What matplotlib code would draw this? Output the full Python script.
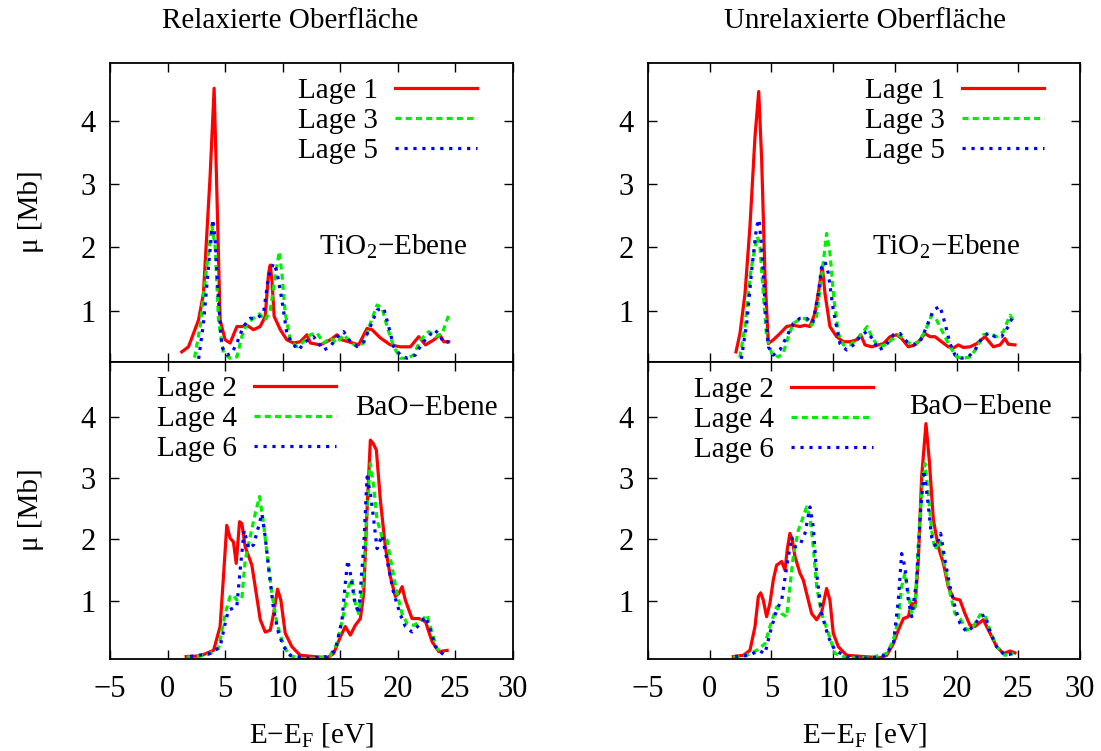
import matplotlib
matplotlib.use("Agg")
import matplotlib.pyplot as plt

plt.rcParams['font.family'] = ['Liberation Serif', 'DejaVu Serif']
plt.rcParams['mathtext.fontset'] = 'custom'
plt.rcParams['mathtext.rm'] = 'Liberation Serif'
plt.rcParams['mathtext.it'] = 'Liberation Serif:italic'

# ---- Relaxierte Oberflaeche, TiO2-Ebene (Lage 1,3,5)
rel_l1_x = [1.24, 1.82, 2.69, 3.12, 3.70, 4.05, 4.29, 4.57, 5.01, 5.44, 6.03, 6.46, 6.90, 7.47, 8.05, 8.49, 8.78, 8.93, 9.07, 9.27,
            9.80, 10.37, 10.95, 11.53, 12.12, 12.41, 13.28, 14.15, 14.73, 15.16, 15.74, 16.61, 17.34, 17.77, 18.50, 19.37,
            20.24, 21.11, 21.83, 22.42, 23.14, 23.66, 24.01, 24.44]
rel_l1_y = [0.35, 0.43, 0.85, 1.27, 3.12, 4.51, 2.85, 0.85, 0.54, 0.49, 0.75, 0.75, 0.77, 0.70, 0.75, 0.91, 1.59, 1.72, 1.48, 0.91,
            0.70, 0.54, 0.49, 0.51, 0.62, 0.49, 0.46, 0.54, 0.62, 0.54, 0.51, 0.46, 0.72, 0.70, 0.57, 0.46,
            0.43, 0.43, 0.59, 0.46, 0.54, 0.62, 0.51, 0.51]
rel_l3_x = [2.2, 2.83, 3.41, 3.85, 4.14, 4.43, 4.86, 5.44, 6.03, 6.46, 6.90, 7.47, 7.99, 8.49, 8.93, 9.36, 9.71, 9.94, 10.23,
            10.67, 11.24, 11.82, 12.41, 12.98, 13.57, 14.15, 14.73, 15.30, 15.89, 16.47, 17.05, 17.63, 18.21, 18.65, 19.08,
            19.66, 20.24, 20.82, 21.40, 21.98, 22.70, 23.29, 23.87, 24.44]
rel_l3_y = [0.10, 0.75, 1.69, 2.35, 2.01, 0.85, 0.33, 0.25, 0.27, 0.59, 0.80, 0.88, 0.95, 0.85, 1.01, 1.54, 1.93, 1.59, 0.96,
            0.54, 0.43, 0.51, 0.62, 0.65, 0.49, 0.57, 0.49, 0.62, 0.51, 0.43, 0.49, 0.80, 1.09, 1.04, 0.75,
            0.43, 0.25, 0.25, 0.30, 0.54, 0.67, 0.59, 0.64, 0.93]
rel_l5_x = [2.6, 3.12, 3.56, 3.94, 4.14, 4.43, 4.72, 5.16, 5.59, 6.03, 6.59, 7.18, 7.76, 8.34, 8.78, 9.21, 9.50, 9.94, 10.37,
            10.81, 11.39, 11.97, 12.69, 13.57, 14.15, 14.73, 15.30, 15.89, 16.47, 17.05, 17.63, 18.21, 18.79, 19.22,
            19.66, 20.24, 20.82, 21.54, 22.13, 22.70, 23.14, 23.58, 24.01, 24.44]
rel_l5_y = [0.10, 0.80, 1.69, 2.44, 2.12, 1.17, 0.43, 0.30, 0.33, 0.49, 0.75, 0.88, 0.88, 0.96, 1.54, 1.75, 1.62, 1.17, 0.64,
            0.49, 0.38, 0.51, 0.59, 0.38, 0.43, 0.59, 0.67, 0.51, 0.44, 0.51, 0.75, 1.01, 1.04, 0.75,
            0.43, 0.30, 0.25, 0.30, 0.49, 0.59, 0.70, 0.64, 0.49, 0.51]

# ---- Relaxierte Oberflaeche, BaO-Ebene (Lage 2,4,6)
rel_l2_x = [1.62, 2.83, 4.0, 4.57, 4.86, 5.15, 5.44, 5.73, 5.97, 6.26, 6.46, 6.75, 7.33, 7.62, 8.06, 8.49, 8.93, 9.22, 9.56,
            9.85, 10.23, 10.81, 11.54, 12.7, 13.86, 14.44, 15.02, 15.45, 15.89, 16.32, 16.76, 17.05, 17.34, 17.63, 17.86,
            18.15, 18.5, 18.93, 19.37, 19.8, 20.1, 20.39, 20.67, 21.25, 21.84, 22.42, 23.0, 23.58, 24.3]
rel_l2_y = [0.09, 0.10, 0.19, 0.58, 1.39, 2.23, 2.02, 1.96, 1.61, 2.29, 2.26, 1.88, 1.58, 1.23, 0.69, 0.49, 0.52, 0.79, 1.19,
            1.01, 0.47, 0.25, 0.11, 0.09, 0.07, 0.14, 0.41, 0.58, 0.44, 0.60, 0.71, 1.12, 2.48, 3.62, 3.57,
            3.46, 2.64, 1.88, 1.39, 1.07, 1.12, 1.23, 1.01, 0.71, 0.71, 0.66, 0.33, 0.17, 0.19]
rel_l4_x = [1.67, 3.41, 4.43, 5.01, 5.44, 5.73, 6.02, 6.46, 6.75, 7.18, 7.62, 8.0, 8.35, 8.64, 9.07, 9.51, 9.94, 10.52, 11.54,
            12.99, 14.15, 14.73, 15.31, 15.74, 16.03, 16.32, 16.61, 17.05, 17.34, 17.63, 17.92, 18.21, 18.64, 19.08,
            19.51, 19.95, 20.38, 20.82, 21.4, 21.98, 22.56, 23.0, 23.43, 24.01]
rel_l4_y = [0.08, 0.11, 0.22, 0.79, 1.07, 1.09, 1.01, 1.04, 1.66, 2.04, 2.42, 2.70, 2.26, 1.77, 1.12, 0.63, 0.36, 0.11, 0.06,
            0.06, 0.11, 0.30, 0.79, 1.23, 1.36, 0.96, 0.79, 1.34, 2.53, 3.24, 2.86, 2.32, 2.04, 1.99,
            1.55, 1.12, 0.79, 0.63, 0.60, 0.66, 0.77, 0.47, 0.22, 0.14]
rel_l6_x = [1.96, 3.70, 4.57, 5.01, 5.30, 5.59, 6.02, 6.31, 6.66, 7.04, 7.47, 7.91, 8.2, 8.49, 8.78, 9.22, 9.65, 10.09, 10.67,
            12.12, 13.86, 14.58, 15.16, 15.45, 15.66, 15.95, 16.24, 16.61, 17.05, 17.34, 17.63, 17.92, 18.21, 18.64,
            19.08, 19.66, 20.24, 20.67, 21.25, 21.84, 22.42, 22.85, 23.29, 23.87, 24.3]
rel_l6_y = [0.09, 0.14, 0.25, 0.63, 0.85, 0.87, 0.90, 1.50, 2.15, 1.85, 1.91, 2.21, 2.42, 2.04, 1.55, 0.85, 0.47, 0.25, 0.11,
            0.06, 0.09, 0.19, 0.68, 1.28, 1.66, 1.39, 1.01, 0.79, 1.88, 3.02, 2.75, 2.32, 1.85, 2.07,
            1.66, 1.12, 0.77, 0.58, 0.49, 0.60, 0.74, 0.52, 0.25, 0.14, 0.09]

# ---- Unrelaxierte Oberflaeche, TiO2-Ebene
unr_l1_x = [2.13, 2.45, 2.86, 3.26, 3.67, 3.97, 4.21, 4.48, 4.75, 5.15, 5.69, 6.23, 6.77, 7.31, 7.72, 8.12, 8.53, 8.88, 9.12,
            9.34, 9.74, 10.28, 10.83, 11.36, 11.90, 12.23, 12.58, 13.12, 13.66, 14.07, 14.61, 15.15, 15.55, 16.09, 16.63,
            17.04, 17.44, 17.85, 18.25, 18.79, 19.33, 19.74, 20.14, 20.55, 21.09, 21.63, 22.3, 22.98, 23.52, 23.92,
            24.19, 24.73]
unr_l1_y = [0.35, 0.64, 1.27, 2.33, 3.75, 4.46, 3.38, 1.54, 0.48, 0.54, 0.64, 0.75, 0.77, 0.75, 0.77, 0.75, 0.96, 1.38, 1.70,
            1.27, 0.75, 0.59, 0.51, 0.51, 0.54, 0.62, 0.46, 0.43, 0.46, 0.48, 0.59, 0.62, 0.56, 0.43, 0.46,
            0.54, 0.64, 0.59, 0.59, 0.51, 0.43, 0.41, 0.46, 0.42, 0.43, 0.48, 0.59, 0.43, 0.46, 0.56,
            0.47, 0.46]
unr_l3_x = [2.3, 2.86, 3.26, 3.67, 3.86, 4.07, 4.34, 4.61, 5.02, 5.56, 5.96, 6.37, 6.77, 7.18, 7.72, 8.26, 8.66, 9.07, 9.47,
            9.74, 10.07, 10.42, 10.83, 11.36, 11.9, 12.44, 12.77, 13.12, 13.66, 14.2, 14.74, 15.28, 15.82, 16.36, 16.9,
            17.44, 17.98, 18.39, 18.93, 19.47, 20.01, 20.55, 21.09, 21.63, 22.17, 22.71, 23.25, 23.79, 24.33, 24.73]
unr_l3_y = [0.10, 0.75, 1.54, 2.01, 2.17, 2.01, 1.27, 0.59, 0.33, 0.27, 0.33, 0.59, 0.80, 0.85, 0.88, 0.77, 0.91, 1.54, 2.22,
            1.91, 1.17, 0.64, 0.46, 0.46, 0.54, 0.67, 0.75, 0.59, 0.43, 0.46, 0.54, 0.62, 0.54, 0.46, 0.51,
            0.67, 0.93, 0.85, 0.64, 0.43, 0.27, 0.25, 0.27, 0.41, 0.62, 0.64, 0.59, 0.67, 0.93, 0.80]
unr_l5_x = [2.45, 3.0, 3.4, 3.8, 3.99, 4.21, 4.48, 4.75, 5.15, 5.69, 6.23, 6.77, 7.31, 7.85, 8.34, 8.8, 9.07, 9.34, 9.61,
            10.01, 10.55, 11.09, 11.64, 12.18, 12.71, 13.26, 13.66, 14.2, 14.88, 15.42, 15.96, 16.5, 17.04, 17.58, 18.12,
            18.66, 19.06, 19.47, 19.87, 20.41, 20.95, 21.49, 22.03, 22.57, 23.11, 23.65, 24.19, 24.6, 24.73]
unr_l5_y = [0.10, 0.80, 1.64, 2.33, 2.44, 2.01, 1.12, 0.43, 0.30, 0.38, 0.59, 0.80, 0.88, 0.88, 0.80, 1.27, 1.70, 1.77, 1.59,
            1.01, 0.48, 0.38, 0.46, 0.59, 0.67, 0.54, 0.38, 0.43, 0.62, 0.64, 0.51, 0.46, 0.51, 0.75, 1.01,
            1.07, 0.80, 0.48, 0.30, 0.25, 0.27, 0.38, 0.56, 0.65, 0.59, 0.59, 0.75, 0.93, 0.91]

# ---- Unrelaxierte Oberflaeche, BaO-Ebene
unr_l2_x = [1.91, 2.72, 3.26, 3.67, 3.94, 4.13, 4.34, 4.61, 4.88, 5.15, 5.42, 5.83, 6.1, 6.29, 6.5, 6.69, 6.91, 7.31, 7.58,
            7.85, 8.26, 8.66, 9.07, 9.47, 9.74, 10.01, 10.42, 11.1, 12.45, 13.8, 14.34, 14.88, 15.28, 15.69, 16.09,
            16.36, 16.63, 16.9, 17.17, 17.52, 17.79, 18.12, 18.52, 18.93, 19.33, 19.74, 20.28, 20.68, 21.09, 21.49,
            22.17, 22.71, 23.25, 23.79, 24.33, 24.73]
unr_l2_y = [0.09, 0.11, 0.19, 0.58, 1.07, 1.13, 1.01, 0.74, 0.96, 1.34, 1.58, 1.64, 1.50, 1.85, 2.10, 1.99, 1.72, 1.45, 1.34,
            1.12, 0.79, 0.69, 0.82, 1.20, 1.01, 0.47, 0.25, 0.11, 0.09, 0.07, 0.11, 0.30, 0.52, 0.71, 0.74,
            0.96, 0.90, 1.66, 3.02, 3.89, 3.29, 2.32, 1.88, 1.61, 1.23, 1.04, 1.01, 0.79, 0.60, 0.58,
            0.69, 0.47, 0.25, 0.14, 0.18, 0.15]
unr_l4_x = [1.91, 2.99, 3.8, 4.48, 4.88, 5.42, 5.83, 6.23, 6.5, 6.77, 7.18, 7.58, 7.85, 8.12, 8.39, 8.66, 9.07, 9.61, 10.15,
            11.1, 12.99, 14.34, 14.88, 15.28, 15.55, 15.82, 16.09, 16.36, 16.63, 16.9, 17.25, 17.44, 17.71, 17.98, 18.25,
            18.66, 19.06, 19.47, 19.87, 20.28, 20.82, 21.36, 21.9, 22.3, 22.71, 23.25, 23.92, 24.6]
unr_l4_y = [0.08, 0.11, 0.19, 0.30, 0.58, 0.90, 0.79, 0.74, 1.23, 1.72, 2.15, 2.37, 2.53, 2.37, 1.88, 1.23, 0.79, 0.47, 0.14,
            0.07, 0.07, 0.14, 0.36, 0.69, 1.23, 1.45, 1.12, 0.79, 0.90, 1.93, 2.97, 3.24, 2.75, 2.15, 1.83,
            1.99, 1.55, 1.12, 0.79, 0.71, 0.52, 0.58, 0.77, 0.77, 0.52, 0.25, 0.11, 0.14]
unr_l6_x = [2.05, 3.26, 3.94, 4.48, 4.88, 5.42, 5.83, 6.23, 6.64, 6.91, 7.31, 7.72, 8.12, 8.39, 8.66, 9.07, 9.61, 10.15, 11.1,
            12.99, 14.2, 14.88, 15.28, 15.55, 15.82, 16.09, 16.36, 16.77, 17.09, 17.36, 17.66, 17.98, 18.33, 18.71,
            19.06, 19.47, 19.87, 20.28, 20.82, 21.36, 21.9, 22.3, 22.71, 23.25, 23.92, 24.6]
unr_l6_y = [0.09, 0.11, 0.19, 0.14, 0.47, 0.85, 1.01, 1.55, 2.04, 1.88, 1.91, 2.10, 2.53, 2.21, 1.45, 0.79, 0.41, 0.19, 0.09,
            0.06, 0.11, 0.30, 1.01, 1.77, 1.55, 1.01, 0.74, 1.34, 2.48, 3.13, 2.64, 2.04, 1.88, 2.10,
            1.66, 1.23, 0.90, 0.63, 0.49, 0.58, 0.74, 0.77, 0.49, 0.25, 0.11, 0.14]

titles = ["Relaxierte Oberfläche", "Unrelaxierte Oberfläche"]
xticks = [-5, 0, 5, 10, 15, 20, 25, 30]
xticklabels = ["−5", "0", "5", "10", "15", "20", "25", "30"]
yticks = [1, 2, 3, 4]

# Linienstile wie gnuplot (rot durchgezogen, gruen gestrichelt, blau gepunktet)
styles = [dict(color='#ff0000', lw=2.3, ls='-'),
          dict(color='#00ee00', lw=2.3, ls=(0, (1.9, 1.3))),
          dict(color='#0000ff', lw=2.3, ls=(0, (1.0, 1.8)))]

fig = plt.figure(figsize=(11.01, 7.51), dpi=100)
W, H = 1101.0, 751.0

def make_ax(left, right, top, bottom):
    return fig.add_axes([left/W, 1-bottom/H, (right-left)/W, (bottom-top)/H])

ax_tl = make_ax(110, 512.7, 63.3, 361.7)
ax_bl = make_ax(110, 512.7, 361.7, 659.3)
ax_tr = make_ax(648, 1080, 63.3, 361.7)
ax_br = make_ax(648, 1080, 361.7, 659.3)

panels = [
    (ax_tl, [(rel_l1_x, rel_l1_y, "Lage 1"), (rel_l3_x, rel_l3_y, "Lage 3"), (rel_l5_x, rel_l5_y, "Lage 5")]),
    (ax_bl, [(rel_l2_x, rel_l2_y, "Lage 2"), (rel_l4_x, rel_l4_y, "Lage 4"), (rel_l6_x, rel_l6_y, "Lage 6")]),
    (ax_tr, [(unr_l1_x, unr_l1_y, "Lage 1"), (unr_l3_x, unr_l3_y, "Lage 3"), (unr_l5_x, unr_l5_y, "Lage 5")]),
    (ax_br, [(unr_l2_x, unr_l2_y, "Lage 2"), (unr_l4_x, unr_l4_y, "Lage 4"), (unr_l6_x, unr_l6_y, "Lage 6")]),
]

for ax, series in panels:
    for (x, y, lab), st in zip(series, styles):
        ax.plot(x, y, label=lab, **st)
    ax.set_xlim(-5, 30)
    ax.set_xticks(xticks)
    ax.set_yticks(yticks)
    ax.tick_params(direction='in', length=6.5, width=1.0, top=True, right=True, labelsize=22)
    ax.tick_params(axis='x', pad=11)
    ax.tick_params(axis='y', pad=10)
    for sp in ax.spines.values():
        sp.set_linewidth(1.3)

for ax in (ax_tl, ax_tr):
    ax.set_ylim(0.195, 4.905)
    ax.tick_params(labelbottom=False)
for ax in (ax_bl, ax_br):
    ax.set_ylim(0.045, 4.9)
    ax.set_xticklabels(xticklabels)

# Legenden (gnuplot-Art: Text links, Linie rechts)
leg_pos = {ax_tl: (0.911, 0.952), ax_bl: (0.561, 0.953), ax_tr: (0.917, 0.952), ax_br: (0.521, 0.950)}
for ax, pos in leg_pos.items():
    ax.legend(loc='upper right', bbox_to_anchor=pos, frameon=False, markerfirst=False,
              fontsize=21, handlelength=2.8, handletextpad=0.6, labelspacing=0.12,
              borderpad=0, borderaxespad=0)

ax_tl.text(0.703, 0.358, "TiO$_2$−Ebene", transform=ax_tl.transAxes, ha='center', va='baseline', fontsize=21)
ax_tr.text(0.690, 0.358, "TiO$_2$−Ebene", transform=ax_tr.transAxes, ha='center', va='baseline', fontsize=21)
ax_bl.text(0.785, 0.821, "BaO−Ebene", transform=ax_bl.transAxes, ha='center', va='baseline', fontsize=21)
ax_br.text(0.769, 0.824, "BaO−Ebene", transform=ax_br.transAxes, ha='center', va='baseline', fontsize=21)

fig.text(290/W, 1-21/H, titles[0], ha='center', va='center', fontsize=21)
fig.text(865/W, 1-21/H, titles[1], ha='center', va='center', fontsize=21)

for yc in (212, 510):
    fig.text(31/W, 1-yc/H, "μ [Mb]", ha='center', va='center', rotation=90, fontsize=21)
for xc in (311, 864):
    fig.text(xc/W, 1-735/H, "E−E$_\\mathrm{F}$ [eV]", ha='center', va='center', fontsize=21)

fig.savefig("out.png", dpi=100)
